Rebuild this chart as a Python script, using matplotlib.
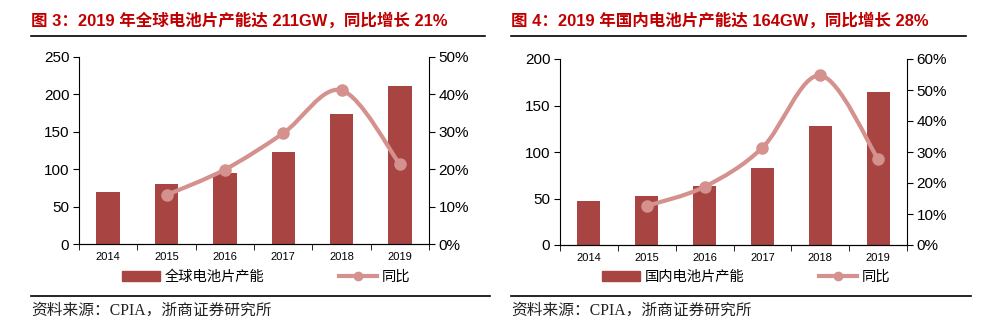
import matplotlib
matplotlib.use("Agg")
import matplotlib.pyplot as plt
from matplotlib.path import Path
from matplotlib.patches import PathPatch, Patch
from matplotlib.lines import Line2D
from matplotlib.ticker import FuncFormatter

plt.rcParams['font.family'] = ['Liberation Sans', 'Noto Sans CJK SC', 'DejaVu Sans']

years = ['2014', '2015', '2016', '2017', '2018', '2019']

# fig 3: global cell capacity (GW) and yoy
global_cap = [70, 80, 95, 123, 174, 211]
global_yoy = [None, 13.1, 19.9, 29.6, 41.1, 21.3]

# fig 4: domestic cell capacity (GW) and yoy
china_cap = [47, 53, 63, 83, 128, 164]
china_yoy = [None, 12.6, 18.8, 31.4, 54.7, 27.7]

bar_color = '#A84542'
line_color = '#D4918E'
title_color = '#C00000'


def smooth_path(xs, ys):
    # bezier path like excel "smoothed line"
    pts = list(zip(xs, ys))
    verts = [pts[0]]
    codes = [Path.MOVETO]
    n = len(pts)
    for i in range(n - 1):
        p0 = pts[i - 1] if i > 0 else pts[i]
        p1 = pts[i]
        p2 = pts[i + 1]
        p3 = pts[i + 2] if i + 2 < n else pts[i + 1]
        c1 = (p1[0] + (p2[0] - p0[0]) / 6, p1[1] + (p2[1] - p0[1]) / 6)
        c2 = (p2[0] - (p3[0] - p1[0]) / 6, p2[1] - (p3[1] - p1[1]) / 6)
        verts += [c1, c2, p2]
        codes += [Path.CURVE4] * 3
    return Path(verts, codes)


def panel(fig, rect, caps, yoy, ymax, ystep, pmax, bar_label, title, title_x, line_x, legend_x):
    ax = fig.add_axes(rect)
    x = list(range(len(years)))
    ax.bar(x, caps, width=0.4, color=bar_color, zorder=2)
    ax.set_xlim(-0.5, len(years) - 0.5)
    ax.set_ylim(0, ymax)
    ax.set_yticks(list(range(0, ymax + 1, ystep)))
    ax.set_xticks(x)
    ax.set_xticklabels(years, fontsize=8)
    ax.set_xticks([i - 0.5 for i in range(len(years) + 1)], minor=True)
    ax.tick_params(axis='x', which='major', length=0, pad=6)
    ax.tick_params(axis='x', which='minor', length=4, direction='out')
    ax.tick_params(axis='y', length=4, direction='out', labelsize=11, pad=3)
    ax.spines['top'].set_visible(False)
    ax.spines['right'].set_visible(False)

    ax2 = ax.twinx()
    ax2.set_ylim(0, pmax)
    ax2.set_yticks(list(range(0, pmax + 1, 10)))
    ax2.yaxis.set_major_formatter(FuncFormatter(lambda v, p: '%d%%' % v))
    ax2.tick_params(axis='y', length=4, direction='out', labelsize=11, pad=3)
    ax2.spines['top'].set_visible(False)
    ax2.spines['left'].set_visible(False)
    lx = [i for i, v in enumerate(yoy) if v is not None]
    ly = [v for v in yoy if v is not None]
    ax2.add_patch(PathPatch(smooth_path(lx, ly), facecolor='none',
                            edgecolor=line_color, lw=3, capstyle='round', zorder=3))
    ax2.plot(lx, ly, 'o', color=line_color, markersize=8, zorder=4)

    handles = [Patch(color=bar_color),
               Line2D([0], [0], color=line_color, lw=3, marker='o', markersize=6)]
    fig.legend(handles, [bar_label, '同比'], loc='center', bbox_to_anchor=(legend_x, 1 - 277 / 327),
               ncol=2, frameon=False, columnspacing=5.2, handlelength=2.7,
               handletextpad=0.3, prop={'family': ['Noto Sans CJK SC'], 'size': 10.3})

    fig.text(title_x / 999, 1 - 20 / 327, title, color=title_color, fontsize=11.9,
             fontweight='bold', va='center', ha='left')
    fig.add_artist(Line2D([line_x[0] / 999, line_x[1] / 999], [1 - 36 / 327] * 2,
                          color='black', lw=1.2, transform=fig.transFigure))
    fig.add_artist(Line2D([line_x[0] / 999, line_x[1] / 999 + 0.005], [1 - 296 / 327] * 2,
                          color='black', lw=1.2, transform=fig.transFigure))
    fig.text(line_x[0] / 999, 1 - 311 / 327, '资料来源：CPIA，浙商证券研究所', fontsize=11.3,
             family=['Liberation Serif', 'Noto Sans CJK SC'], va='center', ha='left', color='#222222')


fig = plt.figure(figsize=(9.99, 3.27), dpi=100)

panel(fig, [79 / 999, 1 - 244 / 327, 350 / 999, 187 / 327], global_cap, global_yoy, 250, 50, 50,
      '全球电池片产能', '图 3：2019 年全球电池片产能达 211GW，同比增长 21%', 31, (31, 485), 266 / 999)
panel(fig, [560 / 999, 1 - 245 / 327, 347 / 999, 186 / 327], china_cap, china_yoy, 200, 50, 60,
      '国内电池片产能', '图 4：2019 年国内电池片产能达 164GW，同比增长 28%', 511, (511, 966), 746 / 999)

fig.savefig('out.png', dpi=100)
